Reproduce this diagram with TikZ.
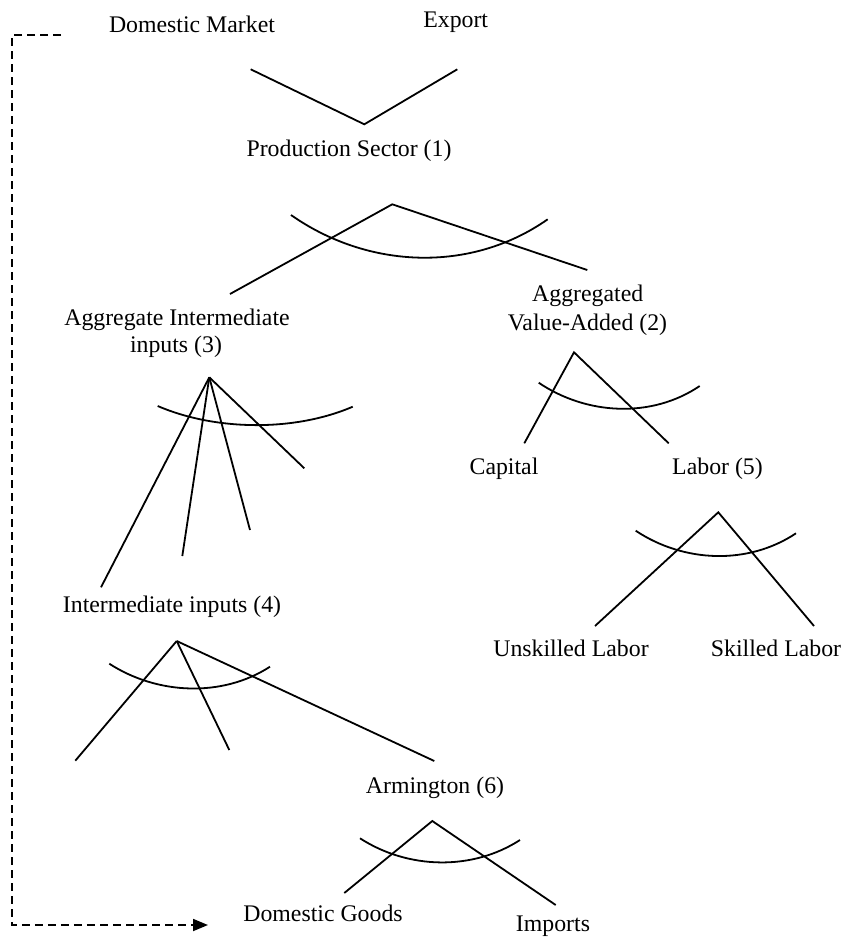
\documentclass[tikz,border=0pt]{standalone}
\usepackage{fontspec}
\setmainfont{Liberation Serif}
\usetikzlibrary{arrows.meta}
\begin{document}
\begin{tikzpicture}[x=1pt,y=-1pt,
  lbl/.style={anchor=base, inner sep=0pt, font=\fontsize{23.8}{28}\selectfont},
  link/.style={line width=1.8pt, line join=miter},
  nest/.style={line width=1.8pt},
  flow/.style={line width=1.8pt, dash pattern=on 8pt off 5pt, -{Triangle[length=15pt,width=12pt]}}]
\useasboundingbox (0,0) rectangle (844,938);

% labels
\node[lbl] (dm)   at (192,32)    {Domestic Market};
\node[lbl] (ex)   at (455.7,27)  {Export};
\node[lbl] (ps)   at (349,156)   {Production Sector (1)};
\node[lbl] (aii)  at (177,325)   {Aggregate Intermediate};
\node[lbl] (aii2) at (176,352)   {inputs (3)};
\node[lbl] (va)   at (587.7,301) {Aggregated};
\node[lbl] (va2)  at (587.5,330) {Value-Added (2)};
\node[lbl] (cap)  at (504,474)   {Capital};
\node[lbl] (lab)  at (717.5,474) {Labor (5)};
\node[lbl] (ul)   at (571,656)   {Unskilled Labor};
\node[lbl] (sl)   at (776,656)   {Skilled Labor};
\node[lbl] (ii)   at (172,612)   {Intermediate inputs (4)};
\node[lbl] (arm)  at (435,793)   {Armington (6)};
\node[lbl] (dg)   at (323,921)   {Domestic Goods};
\node[lbl] (imp)  at (553,931)   {Imports};

% output split (CET)
\coordinate (vL) at (250.7,69.3);
\coordinate (vA) at (364.3,124.3);
\coordinate (vR) at (457.3,69.3);
\draw[link] (vL) -- (vA) -- (vR);

% production sector nest
\coordinate (psA) at (392.3,204.3);
\coordinate (psL) at (230,294);
\coordinate (psR) at (587.3,270);
\draw[link] (psL) -- (psA) -- (psR);
\draw[nest] (291,215) .. controls +(77,54) and +(-77,54) .. (547.7,219.3);

% aggregate intermediate inputs nest
\coordinate (aiA) at (209.3,377.3);
\coordinate (ai1) at (101,587.3);
\coordinate (ai2) at (182.3,556);
\coordinate (ai3) at (250,530);
\coordinate (ai4) at (304.3,468.3);
\draw[link] (aiA) -- (ai1);
\draw[link] (aiA) -- (ai2);
\draw[link] (aiA) -- (ai3);
\draw[link] (aiA) -- (ai4);
\draw[nest] (157.7,406) .. controls +(58,25) and +(-58,25) .. (352.7,406.7);

% value added nest
\coordinate (vaA) at (574,352.3);
\coordinate (vaL) at (524.3,443.3);
\coordinate (vaR) at (668.7,443.3);
\draw[link] (vaL) -- (vaA) -- (vaR);
\draw[nest] (538.7,382.7) .. controls +(48,32.5) and +(-48,32.5) .. (699.7,386);

% labor nest
\coordinate (lbA) at (718.3,512.3);
\coordinate (lbL) at (595,626);
\coordinate (lbR) at (814,626);
\draw[link] (lbL) -- (lbA) -- (lbR);
\draw[nest] (635.7,530.7) .. controls +(48,32) and +(-48,32) .. (796,533.3);

% intermediate inputs nest
\coordinate (iiA) at (176.7,641);
\coordinate (ii1) at (75.3,760.7);
\coordinate (ii2) at (229.3,750);
\coordinate (ii3) at (434.3,761);
\draw[link] (iiA) -- (ii1);
\draw[link] (iiA) -- (ii2);
\draw[link] (iiA) -- (ii3);
\draw[nest] (109.3,663.7) .. controls +(48,31) and +(-48,31) .. (270,666.7);

% armington nest
\coordinate (amA) at (432.3,821);
\coordinate (amL) at (344.3,893);
\coordinate (amR) at (555.7,905);
\draw[link] (amL) -- (amA) -- (amR);
\draw[nest] (360,838.3) .. controls +(48,31) and +(-48,31) .. (520,840);

% domestic market flow
\coordinate (dTop) at (61,35);
\coordinate (dC1) at (12,35);
\coordinate (dC2) at (12,925);
\coordinate (dEnd) at (208,925);
\draw[flow] (dTop) -- (dC1) -- (dC2) -- (dEnd);
\end{tikzpicture}
\end{document}
